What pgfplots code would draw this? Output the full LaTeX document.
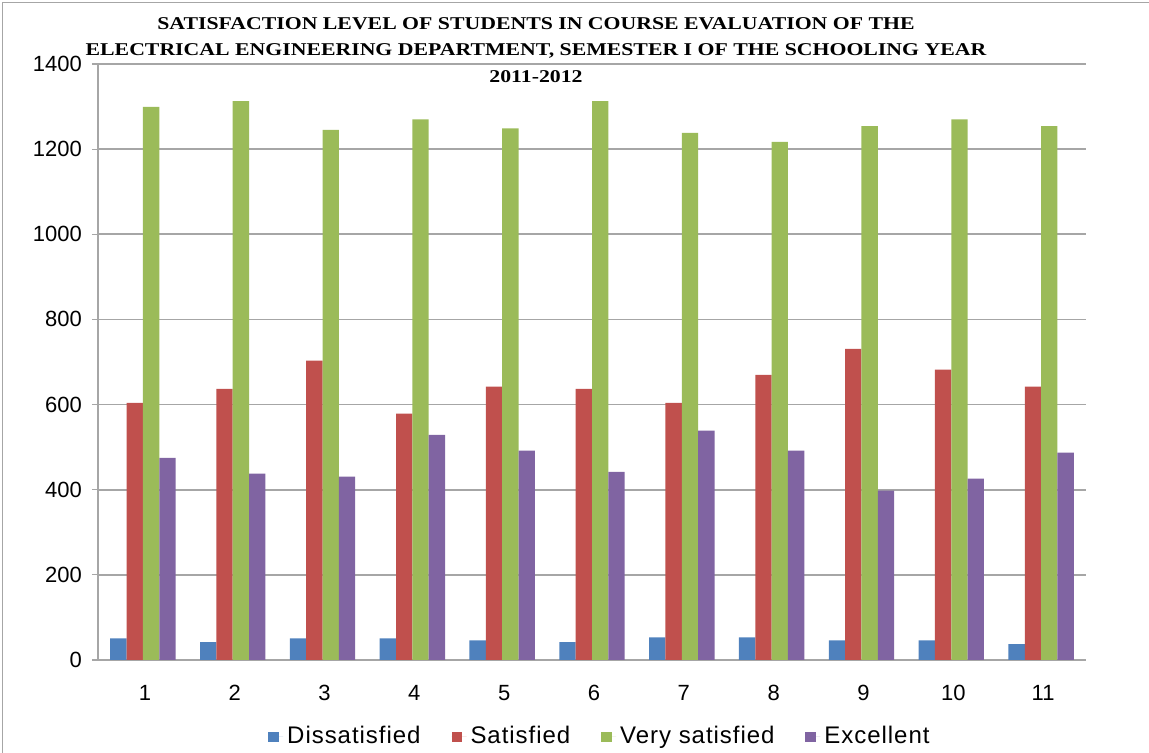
\documentclass[border=0pt]{standalone}
\usepackage{pgfplots}
\pgfplotsset{compat=1.18}
\usepackage{fontspec}
\setmainfont{Liberation Sans}
\newfontfamily\titlefont{Liberation Serif}
\newfontfamily\legfont[LetterSpace=4]{Liberation Sans}
\definecolor{cBlue}{HTML}{4F81BD}
\definecolor{cRed}{HTML}{C0504D}
\definecolor{cGreen}{HTML}{9BBB59}
\definecolor{cPurple}{HTML}{8064A2}
\definecolor{gridc}{HTML}{A6A6A6}
\begin{document}
\begin{tikzpicture}
\path[use as bounding box] (-49pt,-46.5pt) rectangle (525.5pt,330pt);
\draw[gridc, line width=0.6pt] (-47.8pt,-46.5pt) -- (-47.8pt,328.6pt) -- (525.5pt,328.6pt);
\begin{axis}[
  at={(0pt,0pt)}, anchor=south west,
  scale only axis, width=494pt, height=298pt,
  ybar=0pt, bar width=0.182,
  xmin=0.5, xmax=11.5, ymin=0, ymax=1400,
  ytick={0,200,...,1400},
  xtick={1,...,11},
  xtick style={draw=none},
  minor xtick={0.5,1.5,...,11.5},
  minor x tick style={gridc, line width=0.6pt},
  minor tick length=3.5pt,
  major tick length=3pt,
  ytick style={gridc, line width=0.6pt},
  tick align=outside,
  axis x line*=bottom, axis y line*=left,
  axis line style={gridc, line width=0.6pt, -},
  ymajorgrids, major grid style={gridc, line width=0.8pt},
  /pgf/number format/assume math mode=true,
  /pgf/number format/1000 sep={},
  ticklabel style={font=\fontsize{11}{13}\selectfont},
  yticklabel style={xshift=-1.5pt},
  xticklabel style={yshift=-6pt, xshift=1pt},
  legend columns=4,
  legend style={at={(0.509,0)}, anchor=center, yshift=-38pt, draw=none,
    font=\legfont\fontsize{12}{14}\selectfont, /tikz/every even column/.append style={column sep=13.5pt}},
  legend image code/.code={\fill[#1] (0pt,-3pt) rectangle (5.2pt,2.2pt); \path (0pt,0pt) -- (7.5pt,0pt);},
]
\addplot[fill=cBlue, draw=none, bar shift=-0.273] coordinates {(1,51) (2,42) (3,51) (4,51) (5,46) (6,42) (7,53) (8,53) (9,46) (10,46) (11,37)};
\addplot[fill=cRed, draw=none, bar shift=-0.091] coordinates {(1,604) (2,637) (3,703) (4,579) (5,642) (6,637) (7,604) (8,670) (9,731) (10,682) (11,642)};
\addplot[fill=cGreen, draw=none, bar shift=0.091] coordinates {(1,1299) (2,1313) (3,1245) (4,1270) (5,1249) (6,1313) (7,1238) (8,1217) (9,1254) (10,1270) (11,1254)};
\addplot[fill=cPurple, draw=none, bar shift=0.273] coordinates {(1,475) (2,438) (3,431) (4,529) (5,492) (6,442) (7,539) (8,492) (9,398) (10,426) (11,487)};
\legend{Dissatisfied, Satisfied, Very satisfied, Excellent}
\end{axis}
\node[inner sep=0pt, anchor=north] at (219pt,325pt)
  {\scalebox{1.21}[1]{\titlefont\bfseries\fontsize{9}{13.3}\selectfont\begin{tabular}{@{}c@{}}SATISFACTION LEVEL OF STUDENTS IN COURSE EVALUATION OF THE\\ELECTRICAL ENGINEERING DEPARTMENT, SEMESTER I OF THE SCHOOLING YEAR\\2011-2012\end{tabular}}};
\end{tikzpicture}
\end{document}
